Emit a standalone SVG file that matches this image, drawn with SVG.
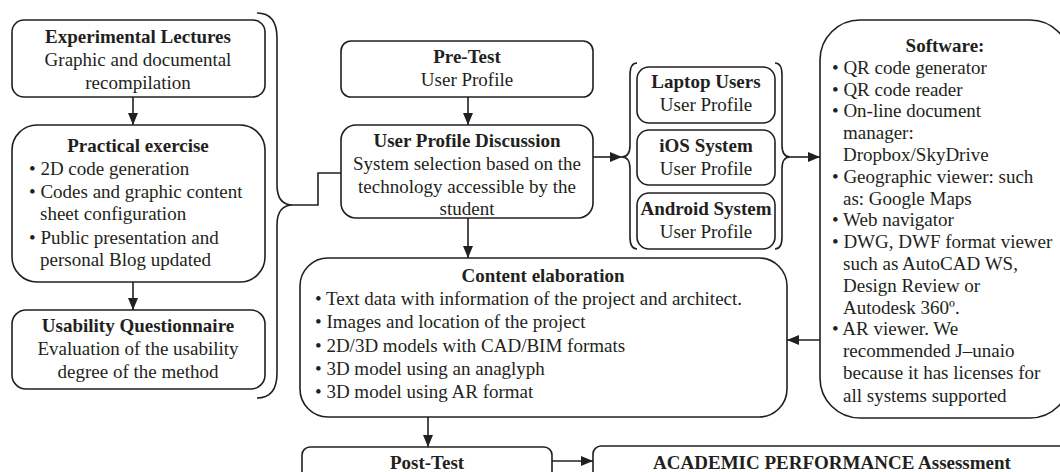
<svg xmlns="http://www.w3.org/2000/svg" width="1060" height="472" viewBox="0 0 1060 472">
<defs>
<marker id="ah" viewBox="0 0 12 10" refX="12" refY="5" markerWidth="12" markerHeight="10" markerUnits="userSpaceOnUse" orient="auto">
<path d="M0,0 L12,5 L0,10 Z" fill="#231f20"/>
</marker>
<style>
.box{fill:#fff;stroke:#231f20;stroke-width:1.6}
.ln{fill:none;stroke:#231f20;stroke-width:1.6}
.ar{fill:none;stroke:#231f20;stroke-width:1.6;marker-end:url(#ah)}
text{font-family:"Liberation Serif","Times New Roman",serif;font-size:19px;fill:#231f20}
.t{font-weight:bold;text-anchor:middle}
.c{text-anchor:middle}
</style>
</defs>
<rect width="1060" height="472" fill="#fff"/>

<g id="connectors">
<path class="ar" d="M133,97 V125"/>
<path class="ar" d="M133,282 V310"/>
<path class="ar" d="M468,97 V125"/>
<path class="ar" d="M468,218 V258"/>
<path class="ar" d="M428,417 V447"/>
<path class="ar" d="M552,461 H593"/>
<path class="ar" d="M593,157 H622"/>
<path class="ar" d="M790,157 H820"/>
<path class="ar" d="M820,340 H787"/>
<path class="ln" d="M293,205 H318 V173 H341"/>
<path class="ln" d="M257,13 Q277,13 277,38 V185 Q277,205 293,205 Q277,205 277,225 V373 Q277,398 257,398"/>
<path class="ln" d="M637,63 Q630,63 630,75 V145 Q630,157 622,157 Q630,157 630,169 V237 Q630,249 637,249"/>
<path class="ln" d="M775,63 Q782,63 782,75 V145 Q782,157 790,157 Q782,157 782,169 V237 Q782,249 775,249"/>
</g>

<g id="experimental">
<rect class="box" x="12" y="20" width="253" height="77" rx="12"/>
<text class="t" x="138" y="43">Experimental Lectures</text>
<text class="c" x="138" y="66">Graphic and documental</text>
<text class="c" x="138" y="89">recompilation</text>
</g>

<g id="practical">
<rect class="box" x="12" y="125" width="253" height="157" rx="25"/>
<text class="t" x="138" y="152">Practical exercise</text>
<text x="29" y="175">• 2D code generation</text>
<text x="29" y="198">• Codes and graphic content</text>
<text x="40" y="220">sheet configuration</text>
<text x="29" y="244">• Public presentation and</text>
<text x="40" y="266">personal Blog updated</text>
</g>

<g id="usability">
<rect class="box" x="12" y="310" width="253" height="79" rx="14"/>
<text class="t" x="138" y="332">Usability Questionnaire</text>
<text class="c" x="138" y="355">Evaluation of the usability</text>
<text class="c" x="138" y="378">degree of the method</text>
</g>

<g id="pretest">
<rect class="box" x="341" y="41" width="252" height="56" rx="10"/>
<text class="t" x="467" y="63">Pre-Test</text>
<text class="c" x="467" y="86">User Profile</text>
</g>

<g id="upd">
<rect class="box" x="341" y="125" width="252" height="93" rx="15"/>
<text class="t" x="467" y="147">User Profile Discussion</text>
<text class="c" x="467" y="170">System selection based on the</text>
<text class="c" x="467" y="193">technology accessible by the</text>
<text class="c" x="467" y="215">student</text>
</g>

<g id="laptop">
<rect class="box" x="637" y="67" width="138" height="56" rx="12"/>
<text class="t" x="706" y="88">Laptop Users</text>
<text class="c" x="706" y="111">User Profile</text>
</g>

<g id="ios">
<rect class="box" x="637" y="130" width="138" height="55" rx="12"/>
<text class="t" x="706" y="152">iOS System</text>
<text class="c" x="706" y="175">User Profile</text>
</g>

<g id="android">
<rect class="box" x="637" y="193" width="138" height="56" rx="12"/>
<text class="t" x="706" y="215">Android System</text>
<text class="c" x="706" y="238">User Profile</text>
</g>

<g id="software">
<rect class="box" x="820" y="20" width="250" height="398" rx="40"/>
<text class="t" x="945" y="52">Software:</text>
<text x="832" y="74">• QR code generator</text>
<text x="832" y="96">• QR code reader</text>
<text x="832" y="117">• On-line document</text>
<text x="843" y="139">manager:</text>
<text x="843" y="161">Dropbox/SkyDrive</text>
<text x="832" y="183">• Geographic viewer: such</text>
<text x="843" y="205">as: Google Maps</text>
<text x="832" y="226">• Web navigator</text>
<text x="832" y="248">• DWG, DWF format viewer</text>
<text x="843" y="270">such as AutoCAD WS,</text>
<text x="843" y="292">Design Review or</text>
<text x="843" y="314">Autodesk 360º.</text>
<text x="832" y="335">• AR viewer. We</text>
<text x="843" y="357">recommended J–unaio</text>
<text x="843" y="379">because it has licenses for</text>
<text x="843" y="402">all systems supported</text>
</g>

<g id="content">
<rect class="box" x="300" y="258" width="487" height="159" rx="28"/>
<text class="t" x="543" y="282">Content elaboration</text>
<text x="315" y="305">• Text data with information of the project and architect.</text>
<text x="315" y="328">• Images and location of the project</text>
<text x="315" y="352">• 2D/3D models with CAD/BIM formats</text>
<text x="315" y="375">• 3D model using an anaglyph</text>
<text x="315" y="398">• 3D model using AR format</text>
</g>

<g id="posttest">
<rect class="box" x="302" y="447" width="250" height="60" rx="8"/>
<text class="t" x="427" y="469">Post-Test</text>
</g>

<g id="academic">
<rect class="box" x="593" y="446" width="480" height="60" rx="8"/>
<text class="t" x="832" y="469">ACADEMIC PERFORMANCE Assessment</text>
</g>
</svg>
